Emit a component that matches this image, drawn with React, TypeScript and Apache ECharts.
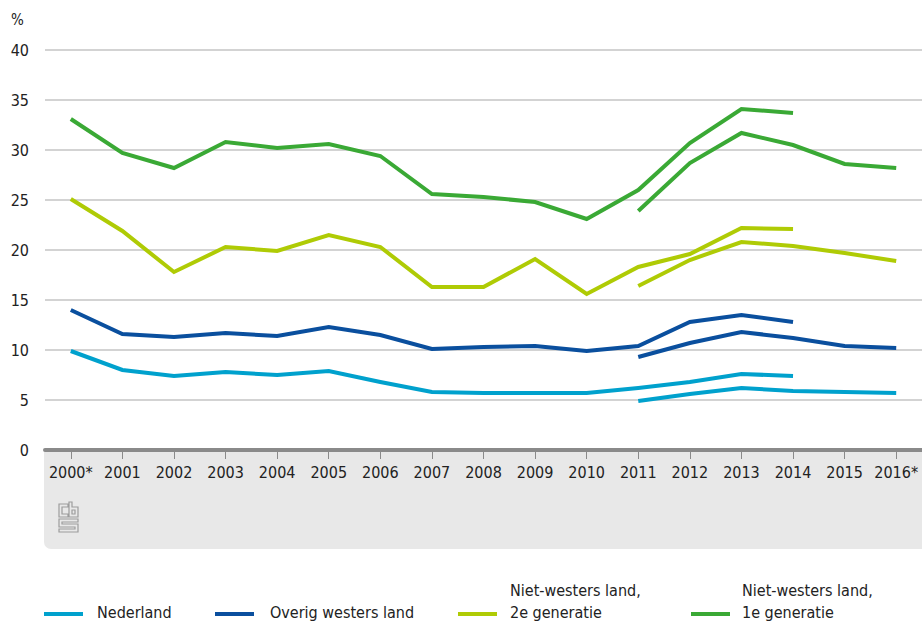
import React, { useEffect, useRef } from "react";
import * as echarts from "echarts";

const years = ["2000*", "2001", "2002", "2003", "2004", "2005", "2006", "2007", "2008", "2009", "2010", "2011", "2012", "2013", "2014", "2015", "2016*"];
const yTicks = [0, 5, 10, 15, 20, 25, 30, 35, 40];

const nederlandOld = [9.9, 8.0, 7.4, 7.8, 7.5, 7.9, 6.8, 5.8, 5.7, 5.7, 5.7, 6.2, 6.8, 7.6, 7.4, null, null];
const nederlandNew = [null, null, null, null, null, null, null, null, null, null, null, 4.9, 5.6, 6.2, 5.9, 5.8, 5.7];
const overigOld = [14.0, 11.6, 11.3, 11.7, 11.4, 12.3, 11.5, 10.1, 10.3, 10.4, 9.9, 10.4, 12.8, 13.5, 12.8, null, null];
const overigNew = [null, null, null, null, null, null, null, null, null, null, null, 9.3, 10.7, 11.8, 11.2, 10.4, 10.2];
const tweedeOld = [25.1, 21.9, 17.8, 20.3, 19.9, 21.5, 20.3, 16.3, 16.3, 19.1, 15.6, 18.3, 19.6, 22.2, 22.1, null, null];
const tweedeNew = [null, null, null, null, null, null, null, null, null, null, null, 16.4, 19.0, 20.8, 20.4, 19.7, 18.9];
const eersteOld = [33.1, 29.7, 28.2, 30.8, 30.2, 30.6, 29.4, 25.6, 25.3, 24.8, 23.1, 26.0, 30.7, 34.1, 33.7, null, null];
const eersteNew = [null, null, null, null, null, null, null, null, null, null, null, 23.9, 28.7, 31.7, 30.5, 28.6, 28.2];

const names = ["Nederland", "Overig westers land", "Niet-westers land,\n2e generatie", "Niet-westers land,\n1e generatie"];
const colors = ["#00a1cd", "#0a4f9e", "#afcb05", "#3aa935"];

const FONT = "'DejaVu Sans Condensed', 'DejaVu Sans', sans-serif";

export default function App() {
  const ref = useRef<HTMLDivElement>(null);
  useEffect(() => {
    if (!ref.current) return;
    const chart = echarts.init(ref.current, null, { renderer: "svg" });
    const groups = [
      [nederlandOld, nederlandNew],
      [overigOld, overigNew],
      [tweedeOld, tweedeNew],
      [eersteOld, eersteNew],
    ];
    const series: any[] = [];
    groups.forEach((g, i) => {
      g.forEach((d) => {
        series.push({
          type: "line",
          name: names[i],
          data: d,
          symbol: "none",
          connectNulls: false,
          lineStyle: { color: colors[i], width: 4, cap: "butt", join: "miter" },
          itemStyle: { color: colors[i] },
          z: 3,
        });
      });
    });

    const legendX = [44, 215, 458, 691];
    const legendTextX = [97, 270, 510, 742];
    const legendGraphics: any[] = [];
    names.forEach((n, i) => {
      legendGraphics.push({
        type: "rect",
        shape: { x: legendX[i], y: 612, width: 39, height: 4 },
        style: { fill: colors[i] },
      });
      legendGraphics.push({
        type: "text",
        x: legendTextX[i],
        y: 623,
        style: {
          text: n,
          fill: "#222",
          font: `16px ${FONT}`,
          textVerticalAlign: "bottom",
          lineHeight: 22,
        },
      });
    });

    const logoD =
      "M0,2 H9 V5 H3 V12 H9 V15 H0 Z M10,0 H13 V5 H19 V15 H10 Z M13,8 H16 V12 H13 Z M0,17 H19 V20 H3 V22 H19 V30 H0 V27 H16 V25 H0 Z";
    try {
      echarts.graphic.registerShape("cbslogo", echarts.graphic.extendPath(logoD, {}) as any);
    } catch (e) {}

    chart.setOption({
      animation: false,
      backgroundColor: "#fff",
      grid: { left: 45, right: 0, top: 50, bottom: 173, containLabel: false },
      graphic: [
        {
          type: "rect",
          z: -10,
          shape: { x: 44, y: 450, width: 878, height: 99, r: [0, 0, 0, 7] },
          style: { fill: "#e8e8e8" },
        },
        {
          type: "cbslogo",
          x: 59,
          y: 502,
          scaleX: 1,
          scaleY: 1,
          z: -5,
          style: { fill: "none", stroke: "#9c9c9c", lineWidth: 1.2 },
        },
        {
          type: "text",
          x: 11,
          y: 12,
          style: { text: "%", fill: "#222", font: `15px ${FONT}` },
        },
        ...legendGraphics,
      ],
      xAxis: {
        type: "category",
        data: years,
        boundaryGap: true,
        axisLine: { show: true, lineStyle: { color: "#8a8a8a", width: 4 } },
        axisTick: { show: true, alignWithLabel: true, length: 9, lineStyle: { color: "#8a8a8a", width: 1 } },
        axisLabel: { color: "#222", fontSize: 16, fontFamily: FONT, margin: 14, interval: 0 },
        z: 2,
      },
      yAxis: {
        type: "value",
        min: yTicks[0],
        max: yTicks[yTicks.length - 1],
        interval: 5,
        axisLine: { show: false },
        axisTick: { show: false },
        axisLabel: { color: "#222", fontSize: 16, fontFamily: FONT, margin: 16 },
        splitLine: { show: true, lineStyle: { color: "#c4c4c4", width: 1.5 } },
      },
      series,
    });
    return () => chart.dispose();
  }, []);
  return <div ref={ref} style={{ position: "fixed", left: 0, top: 0, width: 922, height: 623 }} />;
}
